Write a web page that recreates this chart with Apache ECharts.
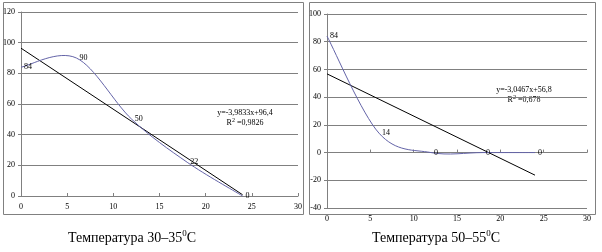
<!DOCTYPE html>
<html>
<head>
<meta charset="utf-8">
<script src="https://cdn.jsdelivr.net/npm/echarts@6/dist/echarts.min.js"></script>
<style>html,body{margin:0;padding:0;background:#fff}#c{width:602px;height:252px}</style>
</head>
<body>
<div id="c"></div>
<script>
// ---- data ----
var leftX = [0, 6, 12, 18, 24];
var leftY = [84, 90, 50, 22, 0];
var leftTrendX = [0, 24];
var leftTrendY = [96.4, 0.8];
var leftEq = 'y=-3,9833x+96,4';
var leftR2 = '0,9826';
var leftTitle = 'Температура 30–35';

var rightX = [0, 6, 12, 18, 24];
var rightY = [84, 14, 0, 0, 0];
var rightTrendX = [0, 24];
var rightTrendY = [56.8, -16.3];
var rightEq = 'y=-3,0467x+56,8';
var rightR2 = '0,678';
var rightTitle = 'Температура 50–55';

var xTicks = [0, 5, 10, 15, 20, 25, 30];
var leftYTicks = [0, 20, 40, 60, 80, 100, 120];
var rightYTicks = [-40, -20, 0, 20, 40, 60, 80, 100];

function pairs(xs, ys) { return xs.map(function (x, i) { return [x, ys[i]]; }); }

var FONT = 'Liberation Serif';
var GRAY = '#808080';
var CURVE = '#6464a8';

function xAxisCfg(gi) {
  return {
    type: 'value', gridIndex: gi, min: xTicks[0], max: xTicks[xTicks.length - 1], interval: 5,
    axisLine: { onZero: true, lineStyle: { color: GRAY, width: 1 } },
    axisTick: { show: true, inside: true, length: 3, lineStyle: { color: GRAY } },
    axisLabel: { fontFamily: FONT, fontSize: 8, color: '#000', margin: 7 },
    splitLine: { show: false }
  };
}
function yAxisCfg(gi, ticks) {
  return {
    type: 'value', gridIndex: gi, min: ticks[0], max: ticks[ticks.length - 1], interval: 20,
    axisLine: { show: true, onZero: false, lineStyle: { color: GRAY, width: 1 } },
    axisTick: { show: true, length: 3, lineStyle: { color: GRAY } },
    axisLabel: { fontFamily: FONT, fontSize: 8, color: '#000', margin: 6 },
    splitLine: { show: true, lineStyle: { color: GRAY, width: 1 } }
  };
}
// Smoothed curve (Excel-style Catmull-Rom Bezier), points placed through the axis scales
function curveSeries(gi, xs, ys) {
  var n = xs.length;
  return {
    type: 'custom', xAxisIndex: gi, yAxisIndex: gi, data: pairs(xs, ys),
    encode: { x: 0, y: 1 }, animation: false, z: 3, silent: true,
    renderItem: function (params, api) {
      var i = params.dataIndex;
      var P = function (k) { k = Math.max(0, Math.min(n - 1, k)); return api.coord([xs[k], ys[k]]); };
      var p = P(i);
      var children = [];
      if (i < n - 1) {
        var p0 = P(i - 1), p1 = p, p2 = P(i + 1), p3 = P(i + 2);
        children.push({
          type: 'bezierCurve',
          shape: {
            x1: p1[0], y1: p1[1], x2: p2[0], y2: p2[1],
            cpx1: p1[0] + (p2[0] - p0[0]) / 6, cpy1: p1[1] + (p2[1] - p0[1]) / 6,
            cpx2: p2[0] - (p3[0] - p1[0]) / 6, cpy2: p2[1] - (p3[1] - p1[1]) / 6
          },
          style: { stroke: CURVE, fill: null, lineWidth: 1 }
        });
      }
      children.push({
        type: 'text', x: p[0] + 3, y: p[1],
        style: { text: String(ys[i]), fontFamily: FONT, fontSize: 8, fill: '#000', align: 'left', verticalAlign: 'middle' }
      });
      return { type: 'group', children: children };
    }
  };
}
function trendSeries(gi, data) {
  return {
    type: 'line', xAxisIndex: gi, yAxisIndex: gi, data: data, smooth: false,
    symbol: 'none', lineStyle: { color: '#000', width: 1 }, animation: false, z: 2, silent: true
  };
}
function eqText(x, y, eq, r2) {
  return [
    { type: 'text', x: x, y: y, style: { text: eq, fontFamily: FONT, fontSize: 8, fill: '#000', align: 'center', verticalAlign: 'middle' } },
    { type: 'text', x: x, y: y + 9, style: {
      text: '{a|R}{s|2}{a| =' + r2 + '}', align: 'center', verticalAlign: 'middle',
      rich: { a: { fontFamily: FONT, fontSize: 8, fill: '#000', verticalAlign: 'bottom', lineHeight: 10 },
              s: { fontFamily: FONT, fontSize: 6, fill: '#000', verticalAlign: 'top', lineHeight: 10 } } } }
  ];
}
function titleText(x, y, t) {
  return { type: 'text', x: x, y: y, style: {
    text: '{a|' + t + '}{s|0}{a|C}', align: 'center', verticalAlign: 'middle',
    rich: { a: { fontFamily: FONT, fontSize: 14, fill: '#000', verticalAlign: 'bottom', lineHeight: 16 },
            s: { fontFamily: FONT, fontSize: 9, fill: '#000', verticalAlign: 'top', lineHeight: 16 } } } };
}

var chart = echarts.init(document.getElementById('c'), null, { renderer: 'canvas' });
var graphics = [
  { type: 'rect', shape: { x: 3.5, y: 2.5, width: 300, height: 212 }, style: { fill: null, stroke: GRAY, lineWidth: 1 }, z: -1 },
  { type: 'rect', shape: { x: 309.5, y: 2.5, width: 286, height: 212 }, style: { fill: null, stroke: GRAY, lineWidth: 1 }, z: -1 },
  titleText(132, 237, leftTitle),
  titleText(436, 237, rightTitle)
].concat(eqText(245, 113, leftEq, leftR2)).concat(eqText(524, 90, rightEq, rightR2));

chart.setOption({
  animation: false,
  backgroundColor: '#fff',
  grid: [
    { left: 21, top: 12, width: 277, height: 184, containLabel: false },
    { left: 327, top: 14, width: 260, height: 194, containLabel: false }
  ],
  xAxis: [xAxisCfg(0), xAxisCfg(1)],
  yAxis: [yAxisCfg(0, leftYTicks), yAxisCfg(1, rightYTicks)],
  series: [
    trendSeries(0, pairs(leftTrendX, leftTrendY)),
    curveSeries(0, leftX, leftY),
    trendSeries(1, pairs(rightTrendX, rightTrendY)),
    curveSeries(1, rightX, rightY)
  ],
  graphic: graphics
});
</script>
</body>
</html>
